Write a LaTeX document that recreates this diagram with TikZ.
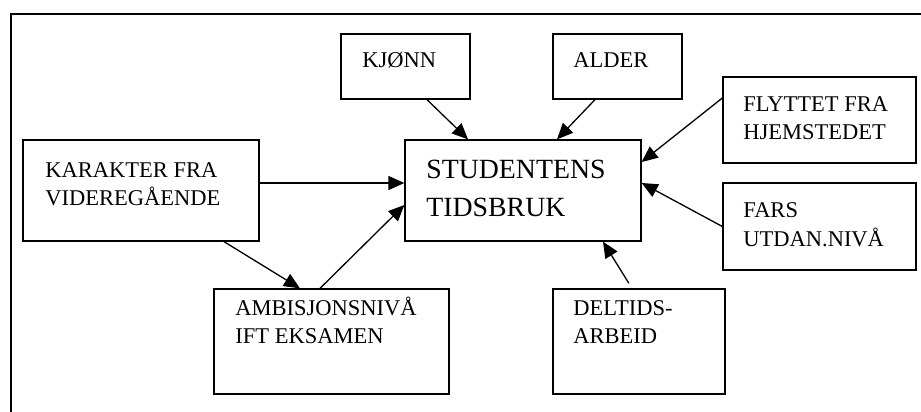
\documentclass[tikz,border=0pt]{standalone}
\usepackage{fontspec}
\setmainfont{Liberation Serif}
\usetikzlibrary{arrows.meta,fit}
\tikzset{b/.style={draw, line width=0.65pt, inner sep=0, fit={#1}},
  t/.style={anchor=base west, inner sep=0, align=left, font=\fontsize{11.25}{14.25}\selectfont},
  a/.style={-{Triangle[length=8pt,width=7pt]}, line width=0.65pt}}

\begin{document}
\begin{tikzpicture}[x=0.5pt,y=-0.5pt]
    \useasboundingbox (0,0) rectangle (921,412);
    \draw[line width=1pt] (10.5,412) |- (921,13.5);

    \node[b={(341,34) (470,99)}](kjonn) {};
    \node[b={(553,34) (682,99)}](alder) {};
    \node[b={(723,77) (916,163)}](flytt) {};
    \node[b={(723,183) (916,270)}](fars) {};
    \node[b={(405,140) (641,241)}](stud) {};
    \node[b={(23,140) (259,241)}](kar) {};
    \node[b={(214,289) (449,394)}](ambi) {};
    \node[b={(553,289) (725,394)}](deltid) {};

    % text placed at the baseline of its last line
    \node[t](kjonnT) at (362,68) {KJØNN};
    \node[t](alderT) at (573,68) {ALDER};
    \node[t](flyttT) at (743,139.5) {FLYTTET FRA\\HJEMSTEDET};
    \node[t](farsT) at (743,246) {FARS\\UTDAN.NIVÅ};
    \node[t, font=\fontsize{13.9}{19}\selectfont](studT) at (426,216) {STUDENTENS\\TIDSBRUK};
    \node[t](karT) at (45,205.5) {KARAKTER FRA\\VIDEREGÅENDE};
    \node[t](ambiT) at (235,343.5) {AMBISJONSNIVÅ\\IFT EKSAMEN};
    \node[t](deltidT) at (573,343.5) {DELTIDS-\\ARBEID};

    \draw[a] ([shift={(21.5,0)}]kjonn.south) -- ([shift={(-55,0)}]stud.north);
    \draw[a] ([shift={(-22.5,0)}]alder.south) -- ([shift={(34,0)}]stud.north);
    \draw[a] ([shift={(0,-22)}]flytt.west) -- ([shift={(0,-28.5)}]stud.east);
    \draw[a] (fars.west) -- ([shift={(0,-7.5)}]stud.east);
    \draw[a, shorten <=3pt] ([shift={(-7,0)}]deltid.north) -- ([shift={(80,0)}]stud.south);
    \draw[a] ([shift={(0,-7.5)}]kar.east) -- ([shift={(0,-7.5)}]stud.west);
    \draw[a] ([shift={(83,0)}]kar.south) -- ([shift={(-31.5,0)}]ambi.north);
    \draw[a] ([shift={(-11.5,0)}]ambi.north) -- ([shift={(0,14.5)}]stud.west);
\end{tikzpicture}
\end{document}
